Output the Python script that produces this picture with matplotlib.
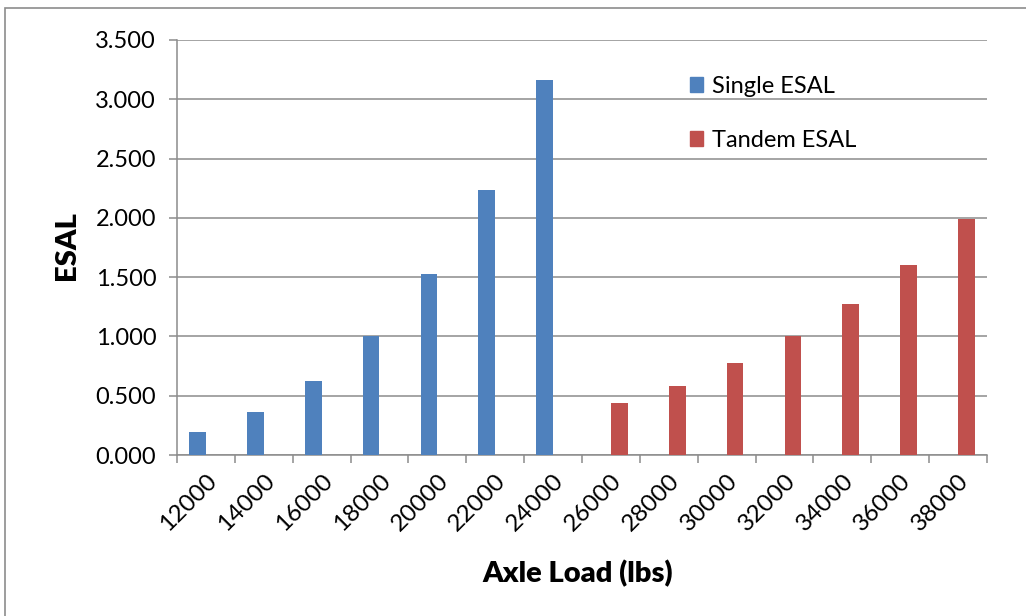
import matplotlib
matplotlib.use("Agg")
import matplotlib.pyplot as plt
from matplotlib.patches import Patch, Rectangle
from matplotlib.ticker import FuncFormatter
import numpy as np

plt.rcParams['font.family'] = ['Lato', 'DejaVu Sans']

# axle loads (lbs) and ESAL factors
single_loads = [12000, 14000, 16000, 18000, 20000, 22000, 24000]
single_esal = [0.198, 0.366, 0.624, 1.000, 1.524, 2.231, 3.160]
tandem_loads = [26000, 28000, 30000, 32000, 34000, 36000, 38000]
tandem_esal = [0.436, 0.586, 0.772, 1.000, 1.274, 1.602, 1.989]

loads = single_loads + tandem_loads
blue = '#4F81BD'
red = '#C0504D'
grey = '#8C8C8C'

fig = plt.figure(figsize=(10.26, 6.16), dpi=100)
ax = fig.add_axes([177/1026, 1-455/616, (987-177)/1026, (455-40)/616])

x = np.arange(len(loads))
w = 0.29
ax.bar(x[:len(single_loads)] - w/2, single_esal, w, color=blue, zorder=3)
ax.bar(x[len(single_loads):] + w/2, tandem_esal, w, color=red, zorder=3)

ax.set_xlim(-0.5, len(loads) - 0.5)
ax.set_ylim(0, 3.5)
ax.set_yticks(np.arange(0, 3.51, 0.5))
ax.yaxis.set_major_formatter(FuncFormatter(lambda v, p: f"{v:.3f}"))
ax.grid(axis='y', color=grey, lw=1.1, zorder=0)

# category labels at centres, tick marks at boundaries
ax.set_xticks(x)
ax.set_xticklabels([str(v) for v in loads], rotation=45, ha='right',
                   va='top', rotation_mode='anchor')
ax.set_xticks(np.arange(-0.5, len(loads)), minor=True)
ax.tick_params(axis='x', which='major', length=0, pad=11, labelsize=17.5)
ax.tick_params(axis='x', which='minor', length=6, width=1.1, color=grey)
ax.tick_params(axis='y', length=6, width=1.1, color=grey, pad=9, labelsize=17)

for s in ['top', 'right']:
    ax.spines[s].set_visible(False)
for s in ['left', 'bottom']:
    ax.spines[s].set_color(grey)
    ax.spines[s].set_linewidth(1.1)

fig.text(67/1026, 1-246/616, 'ESAL', rotation=90, fontsize=21,
         fontweight='heavy', ha='center', va='center')
fig.text(578/1026, 1-574/616, 'Axle Load (lbs)', fontsize=21,
         fontweight='heavy', ha='center', va='center')

handles = [Patch(color=blue, label='Single ESAL'),
           Patch(color=red, label='Tandem ESAL')]
fig.legend(handles=handles, loc='upper left',
           bbox_to_anchor=(678/1026, 1-64/616), frameon=False,
           fontsize=17, handlelength=0.55, handleheight=0.55,
           handletextpad=0.4, labelspacing=1.4, borderpad=0)

# chart frame
fig.patches.append(Rectangle((5/1026, -0.1), 1.2, 0.1 + 1-7.5/616,
                             transform=fig.transFigure, fill=False,
                             edgecolor=grey, lw=1.2))

fig.savefig('out.png', dpi=100)
